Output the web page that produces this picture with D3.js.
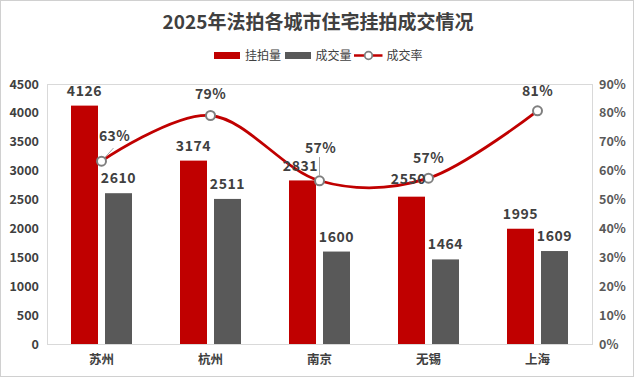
<!DOCTYPE html>
<html><head><meta charset="utf-8">
<script src="https://cdn.jsdelivr.net/npm/d3@7/dist/d3.min.js"></script>
<style>
html,body{margin:0;padding:0;background:#fff;}
text{font-family:"Noto Sans CJK SC","Noto Sans",sans-serif;}
</style></head>
<body>
<svg id="c" width="636" height="378"></svg>
<script>
const title = "2025年法拍各城市住宅挂拍成交情况";
const cities = ["苏州","杭州","南京","无锡","上海"];
const listed = [4126,3174,2831,2550,1995];
const sold = [2610,2511,1600,1464,1609];
const rate = [0.633,0.791,0.565,0.574,0.807];
const rateLabels = ["63%","79%","57%","57%","81%"];
const leftTicks = [0,500,1000,1500,2000,2500,3000,3500,4000,4500];
const rightTicks = [0,0.1,0.2,0.3,0.4,0.5,0.6,0.7,0.8,0.9];
const seriesNames = ["挂拍量","成交量","成交率"];

const colRed = "#C00000", colGray = "#595959", txt = "#404040";
const svg = d3.select("#c");
const L = 47, R = 592, T = 84, B = 344;

// outer border
svg.append("rect").attr("x",0.5).attr("y",0.5).attr("width",633).attr("height",376)
  .attr("fill","#fff").attr("stroke","#d0d0d0");

const x = d3.scaleBand().domain(cities).range([L,R]);
const xs = d3.scaleBand().domain([0,1]).range([-30.5,30.5]).paddingInner(7/34);
const yL = d3.scaleLinear().domain([0,4500]).range([B,T]);
const yR = d3.scaleLinear().domain([0,0.9]).range([B,T]);

// plot area border
svg.append("rect").attr("x",L+0.5).attr("y",T+0.5).attr("width",R-L).attr("height",B-T)
  .attr("fill","none").attr("stroke","#d9d9d9");

// title
svg.append("text").attr("x",318).attr("y",29).attr("text-anchor","middle")
  .attr("font-size",19).attr("font-weight","bold").attr("fill",txt).text(title);

// legend
const lg = svg.append("g");
lg.append("rect").attr("x",214).attr("y",52).attr("width",26).attr("height",7).attr("fill",colRed);
lg.append("text").attr("x",245).attr("y",60).attr("font-size",12).attr("fill",txt).text(seriesNames[0]);
lg.append("rect").attr("x",285).attr("y",52).attr("width",26).attr("height",7).attr("fill",colGray);
lg.append("text").attr("x",315.5).attr("y",60).attr("font-size",12).attr("fill",txt).text(seriesNames[1]);
lg.append("line").attr("x1",354).attr("x2",382.5).attr("y1",55.5).attr("y2",55.5).attr("stroke",colRed).attr("stroke-width",2.5);
lg.append("circle").attr("cx",368.5).attr("cy",55.5).attr("r",3.8).attr("fill","#fff").attr("stroke","#7f7f7f").attr("stroke-width",1.8);
lg.append("text").attr("x",386.5).attr("y",60).attr("font-size",12).attr("fill",txt).text(seriesNames[2]);

// left axis
const axL = svg.append("g").attr("transform",`translate(${L},0)`)
  .call(d3.axisLeft(yL).tickValues(leftTicks).tickFormat(d3.format("d")).tickSize(0).tickPadding(8));
axL.select(".domain").remove();
axL.selectAll("text").attr("font-size",12.5).attr("font-weight","bold").attr("fill",txt)
  .attr("font-family","'Noto Sans',sans-serif");

// right axis
const axR = svg.append("g").attr("transform",`translate(${R},0)`)
  .call(d3.axisRight(yR).tickValues(rightTicks).tickFormat(d3.format(".0%")).tickSize(0).tickPadding(7));
axR.select(".domain").remove();
axR.selectAll("text").attr("font-size",12.5).attr("font-weight","bold").attr("fill","#595959")
  .attr("font-family","'Noto Sans',sans-serif");

// bottom axis
const axB = svg.append("g").attr("transform",`translate(0,${B})`)
  .call(d3.axisBottom(x).tickSize(0).tickPadding(11));
axB.select(".domain").attr("stroke","#d9d9d9");
axB.selectAll("text").attr("font-size",12.5).attr("font-weight","bold").attr("fill",txt);

// bars
const bars = [listed, sold];
const cols = [colRed, colGray];
bars.forEach((arr,si)=>{
  svg.append("g").selectAll("rect").data(arr).join("rect")
    .attr("x",(d,i)=>x(cities[i])+x.bandwidth()/2+xs(si))
    .attr("width",xs.bandwidth())
    .attr("y",d=>yL(d)).attr("height",d=>B-yL(d)).attr("fill",cols[si]);
});

// line
const pts = rate.map((r,i)=>[x(cities[i])+x.bandwidth()/2, yR(r)]);
svg.append("path").attr("d",d3.line().curve(d3.curveCatmullRom.alpha(0))(pts))
  .attr("fill","none").attr("stroke",colRed).attr("stroke-width",2.8);

// leader lines
const leaders = {0:[[104,158.5],[113.5,148]], 2:[[319.5,175],[319.5,157]]};
Object.values(leaders).forEach(l=>{
  svg.append("line").attr("x1",l[0][0]).attr("y1",l[0][1]).attr("x2",l[1][0]).attr("y2",l[1][1])
    .attr("stroke","#a6a6a6").attr("stroke-width",1);
});

svg.append("g").selectAll("circle").data(pts).join("circle")
  .attr("cx",d=>d[0]).attr("cy",d=>d[1]).attr("r",4.5)
  .attr("fill","#fff").attr("stroke","#7f7f7f").attr("stroke-width",2);

// bar labels
const barLabelAdj = [[[0,0],[0,0],[-2,1],[-3,-3],[0,0]],[[0,0],[0,0],[0,0],[0,0],[0,0]]];
bars.forEach((arr,si)=>{
  svg.append("g").selectAll("text").data(arr).join("text")
    .attr("x",(d,i)=>x(cities[i])+x.bandwidth()/2+xs(si)+xs.bandwidth()/2+barLabelAdj[si][i][0])
    .attr("y",(d,i)=>yL(d)-10+barLabelAdj[si][i][1])
    .attr("text-anchor","middle").attr("font-size",14).attr("font-weight","bold")
    .attr("letter-spacing",0.6).attr("fill",txt)
    .attr("font-family","'Noto Sans',sans-serif").text(d=>d);
});

// rate labels
const rateOff = [[13,-20],[0,-16],[1,-28],[0,-15],[0,-15]];
svg.append("g").selectAll("text").data(rateLabels).join("text")
  .attr("x",(d,i)=>pts[i][0]+rateOff[i][0]).attr("y",(d,i)=>pts[i][1]+rateOff[i][1])
  .attr("text-anchor","middle").attr("font-size",14).attr("font-weight","bold")
  .attr("letter-spacing",0.4).attr("fill",txt)
  .attr("font-family","'Noto Sans',sans-serif").text(d=>d);
</script>
</body></html>
